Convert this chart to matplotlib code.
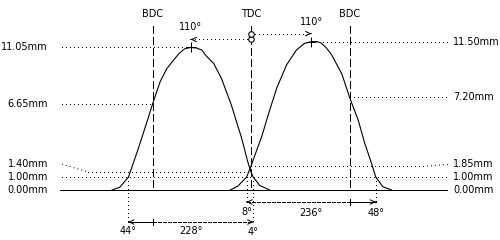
import matplotlib
matplotlib.use("Agg")
import matplotlib.pyplot as plt

#
# --- Valve lift curves: crank angle (deg, 0 = TDC) vs lift (mm)
#
EXH_DEG = [-254, -240, -224, -206, -190, -180, -166, -154, -139, -131, -121, -110,
           -99, -90, -82, -68, -54, -36, -17, -6, 0, 4, 16, 34]
EXH_LIFT = [0.0, 0.2, 1.0, 3.2, 5.3, 6.65, 8.4, 9.4, 10.2, 10.6, 10.95, 11.05,
            11.0, 10.85, 10.4, 9.8, 8.65, 6.6, 4.0, 2.2, 1.4, 1.0, 0.35, 0.0]
INT_DEG = [-38, -24, -8, 0, 8, 20, 32, 47, 65, 83, 98, 110,
           121, 128, 137, 147, 166, 180, 196, 208, 220, 228, 241, 257]
INT_LIFT = [0.0, 0.3, 1.0, 1.85, 2.8, 4.2, 5.9, 7.9, 9.7, 10.85, 11.37, 11.5,
            11.5, 11.4, 11.05, 10.5, 9.0, 7.2, 5.4, 3.6, 2.1, 1.0, 0.25, 0.0]

#
# --- Timing events
#
BDC = [-180, 180]
TDC = 0
EXH_OPEN, EXH_CLOSE, EXH_PEAK_DEG, EXH_PEAK = -224, 4, -110, 11.05
INT_OPEN, INT_CLOSE, INT_PEAK_DEG, INT_PEAK = -8, 228, 110, 11.50
EXH_TEXT = ["44°", "228°", "4°"]
INT_TEXT = ["8°", "236°", "48°"]
PEAK_TEXT = "110°"

#
# --- Lift labels (value, angle where the leader line ends)
#
LEFT_LIFT = [11.05, 6.65, 1.40, 1.00, 0.00]
LEFT_AT = [-110, -180, 0, None, None]
RIGHT_LIFT = [11.50, 7.20, 1.85, 1.00, 0.00]
RIGHT_AT = [110, 180, 0, None, None]

PX_DEG = 197 / 360
PX_MM = 12.9


def px(n):
    return n / PX_DEG


def mm(n):
    return n / PX_MM


plt.rcParams["font.family"] = "DejaVu Sans"
plt.rcParams["font.size"] = 7
plt.rcParams["lines.antialiased"] = False

fig = plt.figure(figsize=(5, 2.4), dpi=100)
ax = fig.add_axes([0, 0, 1, 1])
ax.set_xlim(px(-251), px(249))
ax.set_ylim(mm(-50), mm(190))
ax.axis("off")

LW = 0.72
DOT = (0, (1, 3))
x_left, x_right = px(-189), px(199)


def dotted(xs, ys):
    # one call per segment so straight pieces stay pixel-snapped
    for i in range(len(xs) - 1):
        straight = xs[i] == xs[i + 1] or ys[i] == ys[i + 1]
        ax.plot(xs[i:i + 2], ys[i:i + 2], color="black", lw=LW, linestyle=DOT,
                antialiased=not straight)


#
# --- Curves and baseline
#
ax.plot(EXH_DEG, EXH_LIFT, color="black", lw=0.8, antialiased=True)
ax.plot(INT_DEG, INT_LIFT, color="black", lw=0.8, antialiased=True)
ax.plot([px(-191), px(196)], [0, 0], color="black", lw=LW)

#
# --- TDC / BDC markers
#
for x, name in [(BDC[0], "BDC"), (TDC, "TDC"), (BDC[1], "BDC")]:
    ax.plot([x, x], [mm(3), mm(168)], color="black", lw=LW, linestyle=(0, (8, 4)))
    ax.text(x, mm(176), name, ha="center", va="center")

#
# --- Peaks
#
for pdeg, plift, sgn in [(EXH_PEAK_DEG, EXH_PEAK, -1), (INT_PEAK_DEG, INT_PEAK, 1)]:
    ax.plot(pdeg, plift, marker="+", color="black", markersize=7, mew=LW)
    ax.text(pdeg, plift + mm(20), PEAK_TEXT, ha="center", va="center")
    yy = plift + mm(8)
    dotted([TDC, pdeg], [yy, yy])
    ax.plot(TDC, yy, marker="o", markersize=4, mfc="white", mec="black", mew=0.8,
            antialiased=True)
    ax.annotate("", xy=(pdeg, yy), xytext=(pdeg - sgn * 0.5, yy),
                arrowprops=dict(arrowstyle="->", lw=0.72, color="black",
                                shrinkA=0, shrinkB=0, mutation_scale=8))

#
# --- Lift labels with leader lines
#
for val, at in zip(LEFT_LIFT, LEFT_AT):
    ly = val if val != 1.40 else 2.0
    ax.text(px(-203), ly, f"{val:.2f}mm", ha="right", va="center")
    if val == 0:
        continue
    if at is None:
        dotted([x_left, x_right], [val, val])
    elif ly != val:
        dotted([x_left, px(-163), at], [ly, val, val])
    else:
        dotted([x_left, at], [val, val])

for val, at in zip(RIGHT_LIFT, RIGHT_AT):
    ly = val if val != 1.85 else 2.0
    ax.text(px(202), ly, f"{val:.2f}mm", ha="left", va="center")
    if val == 0 or at is None:
        continue
    if ly != val:
        dotted([at, px(176), x_right], [val, val, ly])
    else:
        dotted([at, x_right], [val, val])

#
# --- Duration dimension lines
#
row_int, row_exh = mm(-12), mm(-32)
for x in [EXH_OPEN, EXH_CLOSE]:
    dotted([x, x], [1.0, row_exh])
for x in [INT_OPEN, INT_CLOSE]:
    dotted([x, x], [1.0, row_int])

# exhaust row: solid before BDC, dashed after
ax.plot([EXH_OPEN, BDC[0]], [row_exh, row_exh], color="black", lw=LW)
ax.plot([BDC[0], EXH_CLOSE], [row_exh, row_exh], color="black", lw=LW, linestyle=(0, (4, 2)))
ax.plot([BDC[0], BDC[0]], [row_exh - mm(3), row_exh + mm(3)], color="black", lw=LW)
# intake row: dashed before BDC, solid after
ax.plot([INT_OPEN, BDC[1]], [row_int, row_int], color="black", lw=LW, linestyle=(0, (4, 2)))
ax.plot([BDC[1], INT_CLOSE], [row_int, row_int], color="black", lw=LW)
ax.plot([BDC[1], BDC[1]], [row_int - mm(3), row_int + mm(3)], color="black", lw=LW)

for x, y, d in [(EXH_OPEN, row_exh, -1), (EXH_CLOSE, row_exh, 1),
                (INT_OPEN, row_int, -1), (INT_CLOSE, row_int, 1)]:
    ax.annotate("", xy=(x, y), xytext=(x - d * 0.5, y),
                arrowprops=dict(arrowstyle="->", lw=0.72, color="black",
                                shrinkA=0, shrinkB=0, mutation_scale=8))

ax.text(EXH_OPEN, row_exh - mm(9), EXH_TEXT[0], ha="center", va="center")
ax.text((EXH_OPEN + EXH_CLOSE) / 2, row_exh - mm(9), EXH_TEXT[1], ha="center", va="center")
ax.text(EXH_CLOSE, row_exh - mm(10), EXH_TEXT[2], ha="center", va="center")
ax.text(INT_OPEN, row_int - mm(10), INT_TEXT[0], ha="center", va="center")
ax.text((INT_OPEN + INT_CLOSE) / 2, row_int - mm(11), INT_TEXT[1], ha="center", va="center")
ax.text(INT_CLOSE, row_int - mm(11), INT_TEXT[2], ha="center", va="center")

fig.savefig("out.png", dpi=100)
